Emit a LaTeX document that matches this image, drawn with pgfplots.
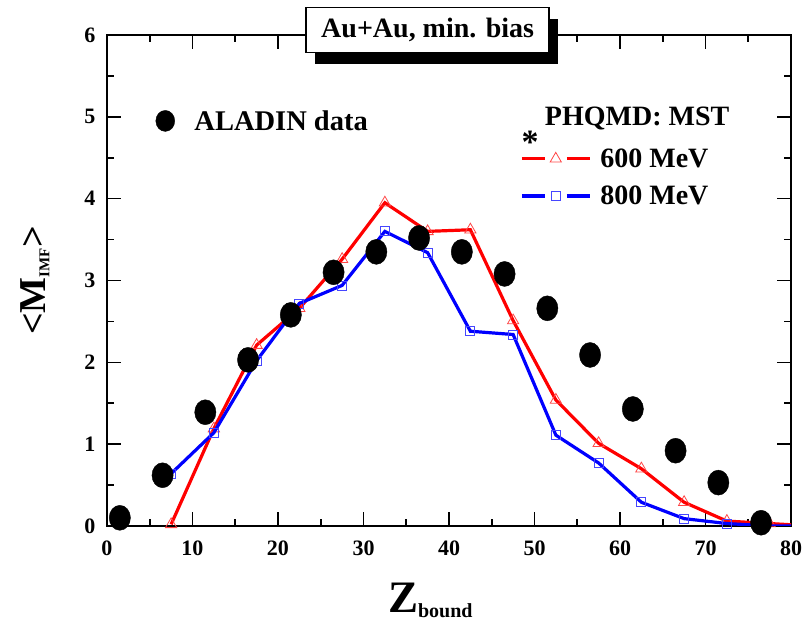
\documentclass[border=0pt]{standalone}
\usepackage{fontspec}
\setmainfont{Liberation Serif}
\usepackage{pgfplots}
\pgfplotsset{compat=1.18}
\usetikzlibrary{shadows}
\definecolor{lred}{RGB}{255,70,70}
\definecolor{lblue}{RGB}{70,70,255}
\begin{document}
\begin{tikzpicture}
\begin{axis}[
  scale only axis, width=684pt, height=491pt,
  xmin=0, xmax=80, ymin=0, ymax=6,
  xtick={0,10,...,80}, ytick={0,...,6},
  minor x tick num=1, minor y tick num=1,
  tick align=inside,
  major tick length=14pt, minor tick length=7pt,
  tick style={line width=1.6pt, black},
  axis line style={line width=1.8pt},
  /pgf/number format/assume math mode=true,
  tick label style={font=\fontsize{22}{22}\selectfont\bfseries},
  xticklabel style={yshift=-11pt},
  yticklabel style={xshift=-8pt},
  xlabel={Z\textsubscript{\fontsize{20}{20}\selectfont bound}},
  ylabel={<M\textsubscript{\fontsize{15}{15}\selectfont IMF}>},
  xlabel style={font=\fontsize{45}{45}\selectfont\bfseries, at={(axis description cs:0.473,-0.152)}, anchor=center},
  ylabel style={font=\fontsize{38}{38}\selectfont\bfseries, at={(axis description cs:-0.105,0.5)}, anchor=center, rotate=0},
  clip mode=individual,
  legend style={at={(axis cs:48.3,4.26)}, anchor=west, draw=none, fill=none,
    font=\fontsize{28}{28}\selectfont\bfseries, row sep=15pt, inner sep=0pt,
    nodes={inner sep=1pt}},
  legend cell align=left,
  legend image code/.code={
    \draw[#1, mark=none] (0pt,0pt) -- (23pt,0pt);
    \draw[#1, mark=none] (45pt,0pt) -- (68pt,0pt);
    \draw[#1, only marks] plot coordinates {(34pt,0pt)};
    \path (76pt,0pt);},
]
\addplot[red, line width=3.2pt, mark=triangle, mark size=6.5pt, mark indices={1,...,15},
  mark options={lred, fill=white, line width=0.8pt, solid}]
  coordinates {(7.5,0.02) (12.5,1.19) (17.5,2.21) (22.5,2.66) (27.5,3.26) (32.5,3.95) (37.5,3.60) (42.5,3.62) (47.5,2.51) (52.5,1.54) (57.5,1.01) (62.5,0.70) (67.5,0.29) (72.5,0.06) (77.5,0.03) (82.5,0.0)};
\addlegendentry{600 MeV}
\addplot[blue, line width=3.2pt, mark=square, mark size=4.5pt, mark indices={1,...,14},
  mark options={lblue, fill=white, line width=0.8pt, solid}]
  coordinates {(7.5,0.64) (12.5,1.14) (17.5,2.02) (22.5,2.72) (27.5,2.94) (32.5,3.60) (37.5,3.34) (42.5,2.38) (47.5,2.34) (52.5,1.11) (57.5,0.77) (62.5,0.29) (67.5,0.09) (72.5,0.03) (77.5,0.0) (82.5,0.0)};
\addlegendentry{800 MeV}
\addplot[only marks, mark=*, mark size=12.5pt, black, mark options={xscale=0.85}]
  coordinates {(1.5,0.10) (6.5,0.62) (11.5,1.39) (16.5,2.03) (21.5,2.58) (26.5,3.10) (31.5,3.35) (36.5,3.52) (41.5,3.35) (46.5,3.08) (51.5,2.66) (56.5,2.09) (61.5,1.43) (66.5,0.92) (71.5,0.53) (76.5,0.04)};
\node[draw, line width=1.6pt, fill=white, inner xsep=15pt, minimum height=45pt,
  font=\fontsize{28}{28}\selectfont\bfseries,
  drop shadow={shadow xshift=9pt, shadow yshift=-11pt, fill=black, opacity=1}]
  at (axis cs:37.5,6.06) {Au+Au, min. bias};
\node[anchor=base west, inner sep=0pt, font=\fontsize{28}{28}\selectfont\bfseries] at (axis cs:51.2,4.89) {PHQMD: MST};
\node[anchor=base, inner sep=0pt, font=\fontsize{34}{34}\selectfont\bfseries] at (axis cs:49.5,4.55) {*};
\end{axis}
\begin{axis}[
  scale only axis, width=684pt, height=491pt,
  xmin=0, xmax=80, ymin=0, ymax=6, hide axis,
  legend style={at={(axis cs:5.6,4.95)}, anchor=west, draw=none, fill=none,
    font=\fontsize{28.5}{28.5}\selectfont\bfseries, inner sep=0pt, nodes={inner sep=2pt}},
  legend image code/.code={\draw[#1] plot coordinates {(10pt,0pt)}; \path (0pt,0pt) (37pt,0pt);},
]
\addlegendimage{only marks, mark=*, mark size=10.5pt, black, mark options={xscale=0.9}}
\addlegendentry{ALADIN data}
\end{axis}
\pgfresetboundingbox
\path ([xshift=-107pt,yshift=-101pt]current axis.south west) rectangle ([xshift=12pt,yshift=35pt]current axis.north east);
\end{tikzpicture}
\end{document}
